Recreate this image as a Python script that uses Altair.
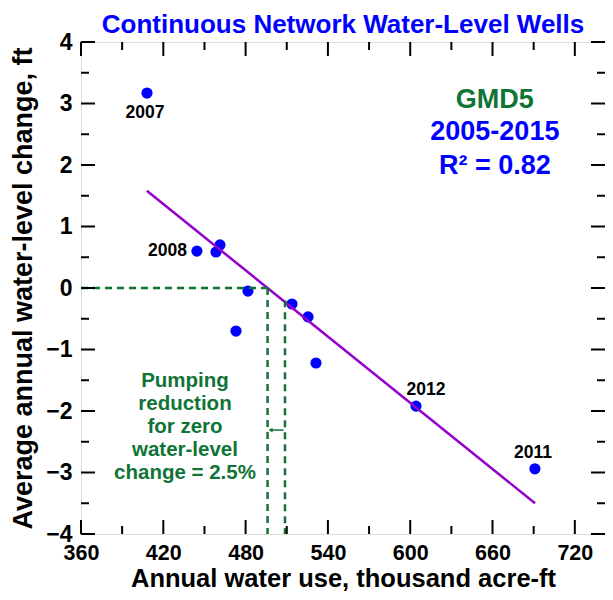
import altair as alt
import pandas as pd

FONT = "Liberation Sans"
BLUE = "#0000FF"
GREEN = "#0F7436"
PURPLE = "#9400CC"

TITLE = "Continuous Network Water-Level Wells"

# data points
years = [2005, 2006, 2007, 2008, 2009, 2010, 2011, 2012, 2013, 2014, 2015]
water_use = [461.3, 458.4, 408.1, 444.5, 481.7, 473.0, 690.9, 604.2, 513.8, 525.5, 531.3]
wl_change = [0.70, 0.585, 3.17, 0.60, -0.05, -0.70, -2.94, -1.92, -0.26, -0.47, -1.22]

# regression line end points
fit_x = [408.0, 691.0]
fit_y = [1.58, -3.50]

# zero-change pumping lines
zero_use = 496.0
mean_use = 508.7

x_domain = [360, 742]
y_domain = [-4, 4]
x_major = [360, 420, 480, 540, 600, 660, 720]
x_minor = [390, 450, 510, 570, 630, 690]
y_major = [-4, -3, -2, -1, 0, 1, 2, 3, 4]
y_minor = [-3.5, -2.5, -1.5, -0.5, 0.5, 1.5, 2.5, 3.5]

W, H = 524, 492

xs = alt.Scale(domain=x_domain, nice=False, zero=False)
ys = alt.Scale(domain=y_domain, nice=False, zero=False)

pts = pd.DataFrame({"year": years, "use": water_use, "chg": wl_change})

base_x = alt.X("use:Q", scale=xs,
               axis=alt.Axis(values=x_major, format="d", ticks=False, grid=False, domain=False,
                             labelFont=FONT, labelFontSize=21.5, labelFontWeight="bold",
                             labelColor="black", labelPadding=8, labelFlush=False,
                             title="Annual water use, thousand acre-ft",
                             titleFont=FONT, titleFontSize=25.5, titleFontWeight="bold",
                             titleColor="black", titlePadding=3))
base_y = alt.Y("chg:Q", scale=ys,
               axis=alt.Axis(values=y_major, format="d", ticks=False, grid=False, domain=False,
                             labelFont=FONT, labelFontSize=23, labelFontWeight="bold",
                             labelColor="black", labelPadding=9, labelFlush=False,
                             title="Average annual water-level change, ft",
                             titleFont=FONT, titleFontSize=27, titleFontWeight="bold",
                             titleColor="black", titlePadding=8))

points = alt.Chart(pts).mark_point(filled=True, size=125, color=BLUE, opacity=1).encode(
    x=base_x, y=base_y)

fit = alt.Chart(pd.DataFrame({"use": fit_x, "chg": fit_y})).mark_line(
    color=PURPLE, strokeWidth=2.5).encode(x=alt.X("use:Q", scale=xs), y=alt.Y("chg:Q", scale=ys))

dash = dict(color=GREEN, strokeWidth=2.5, strokeDash=[7, 5])
hline = alt.Chart(pd.DataFrame({"a": [x_domain[0]], "b": [zero_use], "y": [0]})).mark_rule(**dash).encode(
    x=alt.X("a:Q", scale=xs), x2="b:Q", y=alt.Y("y:Q", scale=ys))
vlines = alt.Chart(pd.DataFrame({"x": [zero_use, mean_use], "y1": [0, -0.2], "y2": [-4, -4]})).mark_rule(**dash).encode(
    x=alt.X("x:Q", scale=xs), y=alt.Y("y1:Q", scale=ys), y2="y2:Q")

arrow_y = -2.31
arrow = alt.Chart(pd.DataFrame({"a": [mean_use - 1], "b": [zero_use + 2.5], "y": [arrow_y]})).mark_rule(
    color=GREEN, strokeWidth=1.5).encode(x=alt.X("a:Q", scale=xs), x2="b:Q", y=alt.Y("y:Q", scale=ys))
arrow_head = alt.Chart(pd.DataFrame({"x": [zero_use + 2.2], "y": [arrow_y]})).mark_point(
    shape="triangle-left", filled=True, size=22, color=GREEN, opacity=1).encode(
    x=alt.X("x:Q", scale=xs), y=alt.Y("y:Q", scale=ys))

# year labels
lab_years = ["2007", "2008", "2012", "2011"]
lab_x = [408.1, 444.5, 604.2, 690.9]
lab_y = [3.17, 0.60, -1.92, -2.94]
lab_dx = [-2, -10, 10, -2]
lab_dy = [20, 0, -16, -16]
lab_align = ["center", "right", "center", "center"]
year_labels = []
for t, x, y, dx, dy, al in zip(lab_years, lab_x, lab_y, lab_dx, lab_dy, lab_align):
    year_labels.append(
        alt.Chart(pd.DataFrame({"x": [x], "y": [y], "t": [t]})).mark_text(
            font=FONT, fontSize=17.5, fontWeight="bold", color="black",
            dx=dx, dy=dy, align=al, baseline="middle").encode(
            x=alt.X("x:Q", scale=xs), y=alt.Y("y:Q", scale=ys), text="t:N"))

# annotation block
ann_text = ["GMD5", "2005-2015", "R² = 0.82"]
ann_y = [3.06, 2.54, 1.98]
ann_col = [GREEN, BLUE, BLUE]
ann_x = 661.7
ann = []
for t, y, c in zip(ann_text, ann_y, ann_col):
    ann.append(alt.Chart(pd.DataFrame({"x": [ann_x], "y": [y], "t": [t]})).mark_text(
        font=FONT, fontSize=27, fontWeight="bold", color=c, baseline="middle").encode(
        x=alt.X("x:Q", scale=xs), y=alt.Y("y:Q", scale=ys), text="t:N"))

pump_lines = ["Pumping", "reduction", "for zero", "water-level", "change = 2.5%"]
pump_y = [-1.52, -1.89, -2.26, -2.63, -3.00]
pump = alt.Chart(pd.DataFrame({"x": [435.8] * 5, "y": pump_y, "t": pump_lines})).mark_text(
    font=FONT, fontSize=20.5, fontWeight="bold", color=GREEN, baseline="middle").encode(
    x=alt.X("x:Q", scale=xs), y=alt.Y("y:Q", scale=ys), text="t:N")

# chart title drawn as text above the frame
title = alt.Chart(pd.DataFrame({"t": [TITLE]})).mark_text(
    font=FONT, fontSize=26, fontWeight="bold", color=BLUE, align="center",
    baseline="alphabetic").encode(x=alt.value(W / 2), y=alt.value(-9), text="t:N")

# inward ticks on all four sides
MAJ, MIN = 14, 8
def xticks(vals, size):
    d = pd.DataFrame({"v": vals})
    b = alt.Chart(d).mark_rule(color="black", strokeWidth=2).encode(
        x=alt.X("v:Q", scale=xs), y=alt.value(H), y2=alt.value(H - size))
    t = alt.Chart(d).mark_rule(color="black", strokeWidth=2).encode(
        x=alt.X("v:Q", scale=xs), y=alt.value(0), y2=alt.value(size))
    return [b, t]
def yticks(vals, size):
    d = pd.DataFrame({"v": vals})
    l = alt.Chart(d).mark_rule(color="black", strokeWidth=2).encode(
        y=alt.Y("v:Q", scale=ys), x=alt.value(0), x2=alt.value(size))
    r = alt.Chart(d).mark_rule(color="black", strokeWidth=2).encode(
        y=alt.Y("v:Q", scale=ys), x=alt.value(W), x2=alt.value(W - size))
    return [l, r]

ticks = xticks(x_major, MAJ) + xticks(x_minor, MIN) + yticks(y_major, MAJ) + yticks(y_minor, MIN)

chart = alt.layer(
    points, fit, hline, vlines, arrow, arrow_head, pump, *year_labels, *ann, title, *ticks
).properties(
    width=W, height=H,
    autosize=alt.AutoSizeParams(type="none"),
    padding={"left": 73, "top": 34, "right": 0, "bottom": 58},
).configure_view(stroke="black", strokeWidth=2).configure(background="white")

chart.save("out.html", embed_options={"renderer": "svg", "actions": False})
